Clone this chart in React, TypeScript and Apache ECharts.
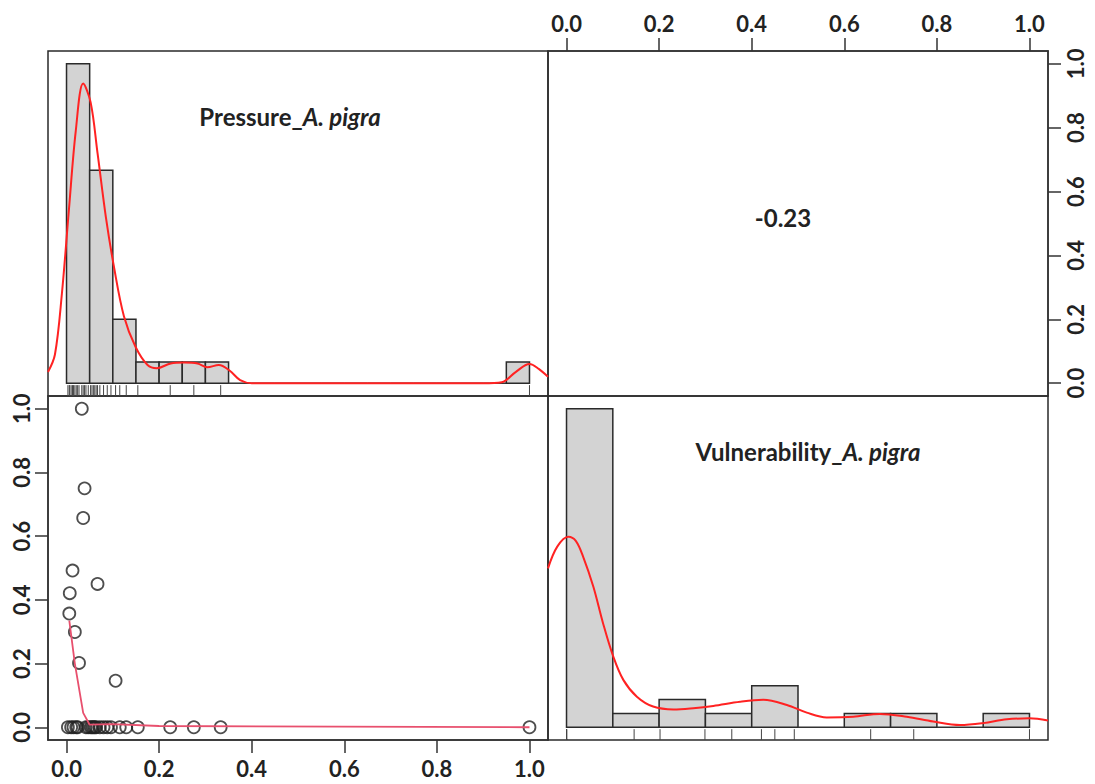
import React, { useEffect, useRef } from 'react';
import * as echarts from 'echarts';

const tickValues = [0, 0.2, 0.4, 0.6, 0.8, 1.0];

const pressure = [
  0.033, 0.039, 0.036, 0.013, 0.067, 0.007, 0.006, 0.018, 0.027, 0.106,
  0.003, 0.010, 0.015, 0.021, 0.024, 0.042, 0.047,
  0.052, 0.055, 0.058, 0.061, 0.064, 0.072, 0.080, 0.088, 0.096,
  0.115, 0.129, 0.154, 0.224, 0.275, 0.333, 1.0,
];
const vulnerability = [
  1.0, 0.75, 0.657, 0.492, 0.45, 0.421, 0.357, 0.299, 0.202, 0.146,
  0, 0, 0, 0, 0, 0, 0,
  0, 0, 0, 0, 0, 0, 0, 0, 0,
  0, 0, 0, 0, 0, 0, 0,
];

const pressureBinStarts = [0, 0.05, 0.1, 0.15, 0.2, 0.25, 0.3, 0.35, 0.4, 0.45, 0.5, 0.55, 0.6, 0.65, 0.7, 0.75, 0.8, 0.85, 0.9, 0.95];
const pressureBinWidth = 0.05;
const pressureCounts = [15, 10, 3, 1, 1, 1, 1, 0, 0, 0, 0, 0, 0, 0, 0, 0, 0, 0, 0, 1];

const vulnBinStarts = [0, 0.1, 0.2, 0.3, 0.4, 0.5, 0.6, 0.7, 0.8, 0.9];
const vulnBinWidth = 0.1;
const vulnCounts = [23, 1, 2, 1, 3, 0, 1, 1, 0, 1];

const pressureDensityX = [-0.04, -0.025, -0.01, 0.005, 0.02, 0.036, 0.052, 0.067, 0.085, 0.103, 0.124, 0.149, 0.175, 0.195, 0.225, 0.254, 0.283, 0.304, 0.329, 0.352, 0.375, 0.4, 0.5, 0.7, 0.9, 0.94, 0.97, 1.0, 1.02, 1.04];
const pressureDensityY = [0.035, 0.09, 0.28, 0.54, 0.79, 0.938, 0.88, 0.72, 0.52, 0.36, 0.21, 0.114, 0.057, 0.047, 0.062, 0.065, 0.062, 0.05, 0.057, 0.04, 0.01, 0, 0, 0, 0, 0.003, 0.035, 0.06, 0.045, 0.02];

const vulnDensityX = [-0.04, -0.02, 0.004, 0.02, 0.036, 0.058, 0.079, 0.101, 0.123, 0.152, 0.187, 0.231, 0.274, 0.317, 0.375, 0.425, 0.476, 0.519, 0.562, 0.619, 0.677, 0.735, 0.792, 0.85, 0.9, 0.951, 1.0, 1.04];
const vulnDensityY = [0.499, 0.567, 0.598, 0.585, 0.535, 0.441, 0.326, 0.222, 0.148, 0.096, 0.065, 0.056, 0.06, 0.067, 0.08, 0.086, 0.07, 0.046, 0.031, 0.033, 0.042, 0.033, 0.018, 0.007, 0.013, 0.025, 0.028, 0.021];

const loessX = [0.006, 0.018, 0.036, 0.05, 0.1, 0.2, 1.0];
const loessY = [0.335, 0.2, 0.045, 0.008, 0.01, 0.004, 0.0];

const correlationText = '-0.23';
const pressureLabel = ['Pressure_', 'A. pigra'];
const vulnLabel = ['Vulnerability_', 'A. pigra'];

const FONT = 'Lato, "DejaVu Sans", sans-serif';
const AX_MIN = -0.04;
const AX_MAX = 1.04;

function histRender(params: any, api: any) {
  const x0 = api.value(0);
  const x1 = api.value(1);
  const h = api.value(2);
  const p0 = api.coord([x0, 0]);
  const p1 = api.coord([x1, h]);
  if (h <= 0) {
    return {
      type: 'line',
      shape: { x1: p0[0], y1: p0[1], x2: p1[0], y2: p0[1] },
      style: { stroke: '#333', lineWidth: 1.5 },
    };
  }
  return {
    type: 'rect',
    shape: { x: p0[0], y: p1[1], width: p1[0] - p0[0], height: p0[1] - p1[1] },
    style: { fill: '#d3d3d3', stroke: '#2a2a2a', lineWidth: 1.5 },
  };
}

function rugRender(params: any, api: any) {
  const v = api.value(0);
  const a = api.coord([v, -0.04]);
  const b = api.coord([v, -0.006]);
  return {
    type: 'line',
    shape: { x1: a[0], y1: a[1], x2: b[0], y2: b[1] },
    style: { stroke: '#444', lineWidth: 1 },
  };
}

function hiddenAxis(grid: number) {
  return {
    type: 'value',
    gridIndex: grid,
    min: AX_MIN,
    max: AX_MAX,
    show: false,
    splitLine: { show: false },
  };
}

function visibleAxis(grid: number, position: string, isY: boolean) {
  return {
    type: 'value',
    gridIndex: grid,
    position,
    min: AX_MIN,
    max: AX_MAX,
    splitLine: { show: false },
    axisLine: { show: true, onZero: false, lineStyle: { color: '#333', width: 1.5 } },
    axisTick: {
      show: true,
      customValues: tickValues,
      length: 13,
      lineStyle: { color: '#333', width: 1.5 },
    },
    axisLabel: {
      show: true,
      customValues: tickValues,
      formatter: (v: number) => v.toFixed(1),
      fontSize: 22,
      fontWeight: 'bold',
      fontFamily: FONT,
      color: '#222',
      margin: isY ? 16 : 17,
      rotate: isY ? 90 : 0,
    },
  };
}

function labelText(parts: string[], x: number, y: number) {
  return {
    type: 'text',
    x,
    y,
    style: {
      text: `{b|${parts[0]}}{i|${parts[1]}}`,
      align: 'center',
      verticalAlign: 'middle',
      rich: {
        b: { fontSize: 24, fontWeight: 'bold', fontFamily: FONT, fill: '#222' },
        i: { fontSize: 24, fontWeight: 'bold', fontStyle: 'italic', fontFamily: FONT, fill: '#222' },
      },
    },
  };
}

export default function App() {
  const ref = useRef<HTMLDivElement>(null);

  useEffect(() => {
    if (!ref.current) return;
    const chart = echarts.init(ref.current, undefined, { renderer: 'svg' });

    const gridStyle = { show: true, borderColor: '#2a2a2a', borderWidth: 1.5, backgroundColor: 'transparent' };

    const option: any = {
      animation: false,
      backgroundColor: '#fff',
      grid: [
        { left: 48, top: 51, width: 500, height: 345, ...gridStyle },
        { left: 548, top: 51, width: 500, height: 345, ...gridStyle },
        { left: 48, top: 396, width: 500, height: 344, ...gridStyle },
        { left: 548, top: 396, width: 500, height: 344, ...gridStyle },
      ],
      xAxis: [
        hiddenAxis(0),
        visibleAxis(1, 'top', false),
        visibleAxis(2, 'bottom', false),
        hiddenAxis(3),
      ],
      yAxis: [
        hiddenAxis(0),
        visibleAxis(1, 'right', true),
        visibleAxis(2, 'left', true),
        hiddenAxis(3),
      ],
      series: [
        {
          type: 'custom',
          xAxisIndex: 0,
          yAxisIndex: 0,
          renderItem: histRender,
          encode: { x: [0, 1], y: 2 },
          data: pressureBinStarts.map((s, i) => [s, s + pressureBinWidth, pressureCounts[i] / Math.max(...pressureCounts)]),
          silent: true,
        },
        {
          type: 'custom',
          xAxisIndex: 0,
          yAxisIndex: 0,
          renderItem: rugRender,
          encode: { x: 0 },
          data: pressure.map((v) => [v]),
          silent: true,
        },
        {
          type: 'line',
          xAxisIndex: 0,
          yAxisIndex: 0,
          data: pressureDensityX.map((x, i) => [x, pressureDensityY[i]]),
          smooth: 0.35,
          symbol: 'none',
          lineStyle: { color: '#f22', width: 2 },
          silent: true,
        },
        {
          type: 'custom',
          xAxisIndex: 3,
          yAxisIndex: 3,
          renderItem: histRender,
          encode: { x: [0, 1], y: 2 },
          data: vulnBinStarts.map((s, i) => [s, s + vulnBinWidth, vulnCounts[i] / Math.max(...vulnCounts)]),
          silent: true,
        },
        {
          type: 'custom',
          xAxisIndex: 3,
          yAxisIndex: 3,
          renderItem: rugRender,
          encode: { x: 0 },
          data: vulnerability.map((v) => [v]),
          silent: true,
        },
        {
          type: 'line',
          xAxisIndex: 3,
          yAxisIndex: 3,
          data: vulnDensityX.map((x, i) => [x, vulnDensityY[i]]),
          smooth: 0.35,
          symbol: 'none',
          lineStyle: { color: '#f22', width: 2 },
          silent: true,
        },
        {
          type: 'scatter',
          xAxisIndex: 2,
          yAxisIndex: 2,
          data: pressure.map((p, i) => [p, vulnerability[i]]),
          symbol: 'circle',
          symbolSize: 12,
          itemStyle: { color: 'rgba(0,0,0,0)', borderColor: '#222', borderWidth: 1.8 },
          silent: true,
        },
        {
          type: 'line',
          xAxisIndex: 2,
          yAxisIndex: 2,
          data: loessX.map((x, i) => [x, loessY[i]]),
          symbol: 'none',
          lineStyle: { color: '#e8506e', width: 1.8 },
          silent: true,
        },
      ],
      graphic: [
        labelText(pressureLabel, 290, 116),
        labelText(vulnLabel, 808, 451),
        {
          type: 'text',
          x: 783,
          y: 217,
          style: {
            text: correlationText,
            align: 'center',
            verticalAlign: 'middle',
            fontSize: 24,
            fontWeight: 'bold',
            fontFamily: FONT,
            fill: '#222',
          },
        },
      ],
    };

    chart.setOption(option);
    return () => chart.dispose();
  }, []);

  return (
    <div
      ref={ref}
      style={{ position: 'fixed', left: 0, top: 0, width: 1095, height: 784, background: '#fff' }}
    />
  );
}
